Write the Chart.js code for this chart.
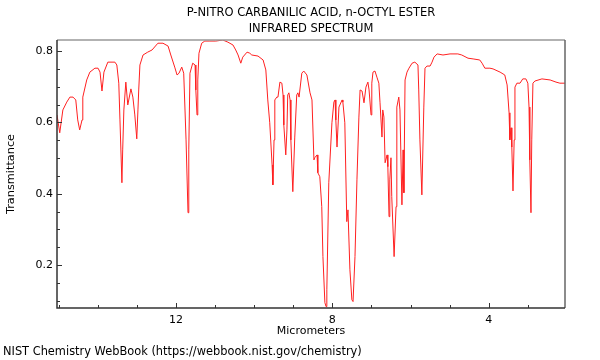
<!DOCTYPE html>
<html>
<head>
<meta charset="utf-8">
<script src="https://cdn.jsdelivr.net/npm/chart.js@4/dist/chart.umd.min.js"></script>
<style>
  html, body { margin: 0; padding: 0; background: #fff; }
  #wrap { position: relative; width: 600px; height: 360px; }
</style>
</head>
<body>
<div id="wrap"><canvas id="c" width="600" height="360"></canvas></div>
<script>
const chartTitle = ["P-NITRO CARBANILIC ACID, n-OCTYL ESTER", "INFRARED SPECTRUM"];
const xAxisTitle = "Micrometers";
const yAxisTitle = "Transmittance";
const footerText = "NIST Chemistry WebBook (https://webbook.nist.gov/chemistry)";

const xMajorTicks = [12, 8, 4];
const xMinorTicks = [3, 5, 6, 7, 9, 10, 11, 13, 14, 15];
const yMajorTicks = [0.2, 0.4, 0.6, 0.8];
const yMinorTicks = [0.1, 0.15, 0.25, 0.3, 0.35, 0.45, 0.5, 0.55, 0.65, 0.7, 0.75];

const wavelength = [
15.04,14.97,14.89,14.79,14.71,14.63,14.56,14.51,14.46,14.40,14.38,14.28,14.20,14.07,13.99,13.94,13.89,13.84,13.74,13.56,
13.51,13.46,13.43,13.38,13.36,13.33,13.28,13.23,13.15,13.10,13.05,13.00,12.97,12.95,12.92,12.84,12.72,12.61,12.46,12.33,
12.20,12.13,12.03,11.97,11.92,11.85,11.80,11.74,11.69,11.67,11.64,11.57,11.51,11.49,11.46,11.44,11.41,11.34,11.26,11.13,
10.98,10.80,10.67,10.54,10.47,10.41,10.34,10.29,10.18,10.11,10.06,9.90,9.77,9.70,9.65,9.60,9.54,9.52,9.49,9.47,
9.42,9.39,9.34,9.29,9.26,9.24,9.19,9.16,9.14,9.11,9.08,9.06,9.01,8.96,8.91,8.88,8.85,8.78,8.73,8.65,
8.57,8.52,8.47,8.45,8.39,8.37,8.32,8.27,8.24,8.19,8.16,8.14,8.09,8.01,7.96,7.93,7.91,7.88,7.83,7.75,
7.73,7.68,7.63,7.60,7.55,7.50,7.47,7.42,7.37,7.32,7.29,7.24,7.19,7.14,7.09,7.06,7.01,6.99,6.96,6.91,
6.86,6.81,6.78,6.73,6.71,6.68,6.65,6.60,6.58,6.55,6.53,6.50,6.48,6.42,6.37,6.35,6.30,6.27,6.22,6.19,
6.17,6.14,6.09,6.04,5.96,5.89,5.81,5.79,5.76,5.71,5.66,5.63,5.58,5.50,5.45,5.40,5.32,5.17,4.99,4.79,
4.69,4.53,4.40,4.23,4.17,4.10,3.97,3.89,3.71,3.59,3.53,3.48,3.46,3.43,3.41,3.38,3.35,3.33,3.28,3.20,
3.13,3.05,3.00,2.97,2.95,2.92,2.90,2.87,2.82,2.64,2.43,2.28,2.18,2.05
];
const transmittance = [
0.621,0.571,0.635,0.657,0.671,0.671,0.663,0.607,0.579,0.607,0.671,0.719,0.741,0.752,0.752,0.741,0.688,0.741,0.769,0.769,
0.761,0.710,0.607,0.431,0.523,0.635,0.713,0.649,0.694,0.671,0.621,0.554,0.635,0.691,0.761,0.789,0.797,0.803,0.822,0.822,
0.814,0.789,0.755,0.733,0.738,0.755,0.738,0.551,0.347,0.523,0.738,0.766,0.761,0.691,0.621,0.719,0.794,0.822,0.828,0.828,
0.828,0.831,0.825,0.817,0.803,0.789,0.766,0.783,0.797,0.794,0.789,0.786,0.775,0.747,0.663,0.599,0.481,0.425,0.551,0.663,
0.671,0.671,0.713,0.710,0.677,0.593,0.509,0.579,0.677,0.683,0.663,0.551,0.406,0.559,0.677,0.683,0.671,0.738,0.744,0.733,
0.683,0.663,0.495,0.501,0.509,0.459,0.448,0.364,0.224,0.095,0.084,0.131,0.431,0.599,0.657,0.663,0.607,0.531,0.643,0.663,
0.657,0.599,0.322,0.355,0.187,0.103,0.098,0.224,0.439,0.615,0.691,0.688,0.655,0.699,0.713,0.691,0.621,0.710,0.741,0.744,
0.727,0.710,0.655,0.559,0.635,0.615,0.487,0.509,0.476,0.336,0.439,0.501,0.392,0.224,0.364,0.643,0.671,0.635,0.369,0.523,
0.403,0.719,0.741,0.752,0.766,0.769,0.761,0.691,0.551,0.397,0.643,0.752,0.758,0.758,0.769,0.783,0.792,0.789,0.792,0.792,
0.789,0.780,0.778,0.775,0.766,0.752,0.752,0.750,0.741,0.733,0.705,0.627,0.551,0.585,0.531,0.408,0.551,0.699,0.710,0.710,
0.722,0.722,0.710,0.643,0.495,0.347,0.551,0.710,0.716,0.722,0.719,0.713,0.710,0.710
];

const FONT = "'DejaVu Sans', sans-serif";

const decorPlugin = {
  id: 'decor',
  afterDraw(chart) {
    const ctx = chart.ctx;
    const a = chart.chartArea;
    const xs = chart.scales.x, ys = chart.scales.y;
    ctx.save();
    // frame: top & right gray, left & bottom dark
    ctx.lineWidth = 1.5;
    ctx.strokeStyle = '#999999';
    ctx.beginPath();
    ctx.moveTo(a.left, a.top); ctx.lineTo(a.right, a.top);
    ctx.stroke();
    ctx.strokeStyle = '#666666';
    ctx.beginPath();
    ctx.moveTo(a.right, a.top); ctx.lineTo(a.right, a.bottom);
    ctx.stroke();
    ctx.strokeStyle = '#333333';
    ctx.beginPath();
    ctx.moveTo(a.left, a.top); ctx.lineTo(a.left, a.bottom); ctx.lineTo(a.right, a.bottom);
    ctx.stroke();
    // ticks (inward)
    ctx.lineWidth = 1;
    ctx.strokeStyle = '#333333';
    ctx.beginPath();
    xMajorTicks.forEach(v => { const p = Math.round(xs.getPixelForValue(v)) + 0.5; ctx.moveTo(p, a.bottom); ctx.lineTo(p, a.bottom - 5); });
    xMinorTicks.forEach(v => { const p = Math.round(xs.getPixelForValue(v)) + 0.5; ctx.moveTo(p, a.bottom); ctx.lineTo(p, a.bottom - 3); });
    yMajorTicks.forEach(v => { const p = Math.round(ys.getPixelForValue(v)) + 0.5; ctx.moveTo(a.left, p); ctx.lineTo(a.left + 5, p); });
    yMinorTicks.forEach(v => { const p = Math.round(ys.getPixelForValue(v)) + 0.5; ctx.moveTo(a.left, p); ctx.lineTo(a.left + 3, p); });
    ctx.stroke();
    // texts
    ctx.fillStyle = '#000';
    ctx.textBaseline = 'middle';
    const cx = (a.left + a.right) / 2;
    ctx.textAlign = 'center';
    ctx.font = '11.5px ' + FONT;
    ctx.fillText(chartTitle[0], cx, 13);
    ctx.fillText(chartTitle[1], cx, 29);
    ctx.font = '11px ' + FONT;
    ctx.fillText(xAxisTitle, cx, 331);
    ctx.textAlign = 'left';
    ctx.font = '11.4px ' + FONT;
    ctx.fillText(footerText, 3, 352);
    ctx.font = '11.3px ' + FONT;
    ctx.save();
    ctx.translate(11, (a.top + a.bottom) / 2);
    ctx.rotate(-Math.PI / 2);
    ctx.textAlign = 'center';
    ctx.fillText(yAxisTitle, 0, 0);
    ctx.restore();
    ctx.restore();
  }
};

const points = wavelength.map((w, i) => ({ x: w, y: transmittance[i] }));

new Chart(document.getElementById('c'), {
  type: 'line',
  data: {
    datasets: [{
      data: points,
      borderColor: '#ff2020',
      borderWidth: 1,
      pointRadius: 0,
      tension: 0,
      fill: false
    }]
  },
  options: {
    responsive: false,
    animation: false,
    events: [],
    layout: { padding: { top: 40, right: 35, left: 0, bottom: 0 } },
    plugins: { legend: { display: false }, title: { display: false }, tooltip: { enabled: false } },
    scales: {
      x: {
        type: 'linear',
        reverse: true,
        min: 2.05,
        max: 15.04,
        grid: { display: false, drawTicks: false },
        border: { display: false },
        afterFit(scale) { scale.height = 52; },
        ticks: {
          stepSize: 1,
          includeBounds: false,
          autoSkip: false,
          maxRotation: 0,
          padding: 6,
          color: '#000',
          font: { family: FONT, size: 11 },
          callback: (v) => (xMajorTicks.includes(Math.round(v * 100) / 100) ? String(v) : '')
        }
      },
      y: {
        type: 'linear',
        min: 0.08,
        max: 0.831,
        grid: { display: false, drawTicks: false },
        border: { display: false },
        afterFit(scale) { scale.width = 57; },
        ticks: {
          stepSize: 0.05,
          includeBounds: false,
          autoSkip: false,
          padding: 4,
          color: '#000',
          font: { family: FONT, size: 11 },
          callback: (v) => {
            const r = Math.round(v * 100) / 100;
            return yMajorTicks.some(t => Math.abs(t - r) < 1e-6) ? r.toFixed(1) : '';
          }
        }
      }
    }
  },
  plugins: [decorPlugin]
});
</script>
</body>
</html>
